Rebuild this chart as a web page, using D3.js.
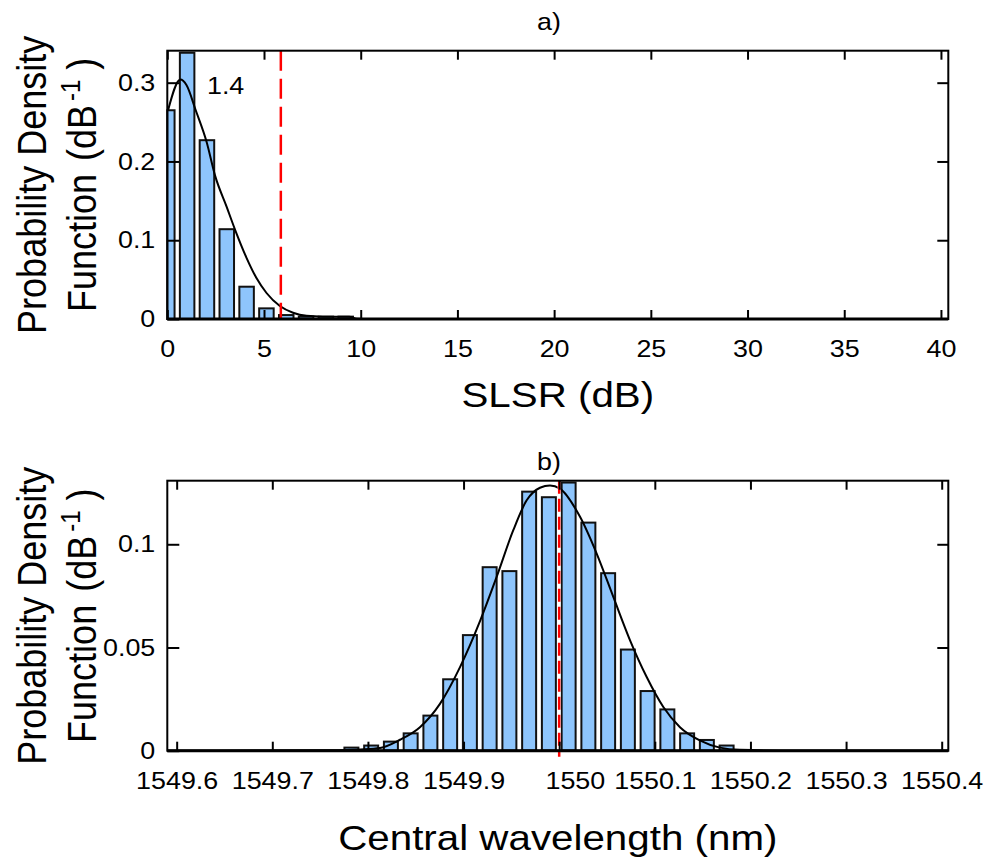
<!DOCTYPE html>
<html>
<head>
<meta charset="utf-8">
<script src="https://cdn.jsdelivr.net/npm/d3@7"></script>
<style>
    body { margin: 0; background: #fff; }
    svg { display: block; }
    text { font-family: "Liberation Sans", Arial, sans-serif; fill: #000; }
</style>
</head>
<body>
<div id="chart"></div>
<script>
// panel a) SLSR histogram (pdf, dB^-1), bins centred on k * slsrBinWidth
const slsrBinWidth = 1.025;
const slsrPdf = [0.265, 0.338, 0.227, 0.114, 0.041, 0.0135, 0.005, 0.003, 0.003, 0.003];
const slsrFitX = [0.04, 0.68, 0.99, 1.47, 2.03, 2.47, 3.06, 3.54, 4.09, 4.61, 5.13, 5.82, 6.5, 7.2, 8.04, 9.4, 9.8, 10.5, 40.38];
const slsrFitY = [0.265, 0.304, 0.297, 0.265, 0.225, 0.182, 0.143, 0.111, 0.078, 0.052, 0.033, 0.0165, 0.008, 0.004, 0.003, 0.003, 0.0004, 0, 0];
const slsrLimit = 5.87;
const slsrTicks = [0, 5, 10, 15, 20, 25, 30, 35, 40];
const slsrTickLabels = ["0", "5", "10", "15", "20", "25", "30", "35", "40"];
const pdfTicksA = [0, 0.1, 0.2, 0.3];
const pdfTickLabelsA = ["0", "0.1", "0.2", "0.3"];

// panel b) central wavelength histogram
const wlBinStart = 1549.7724;
const wlBinWidth = 0.02065;
const wlPdf = [0.0015, 0.0025, 0.0044, 0.0084, 0.017, 0.0346, 0.056, 0.0889, 0.087, 0.1255,
    0.1228, 0.1299, 0.1105, 0.086, 0.049, 0.0289, 0.020, 0.0084, 0.0052, 0.0025];
const wlFitX = [1549.59, 1549.70, 1549.76, 1549.792, 1549.8126, 1549.8335, 1549.8544, 1549.8753, 1549.8963,
    1549.9174, 1549.9346, 1549.952, 1549.966, 1549.9799, 1549.9904, 1550.0008, 1550.0218, 1550.0392,
    1550.0566, 1550.0741, 1550.0915, 1550.1089, 1550.1263, 1550.147, 1550.168, 1550.189, 1550.25, 1550.407];
const wlFitY = [0, 0.00005, 0.0002, 0.0006, 0.0013, 0.0053, 0.0114, 0.0227, 0.0405, 0.063, 0.0842, 0.1068,
    0.1213, 0.1274, 0.1285, 0.127, 0.1133, 0.0955, 0.0745, 0.0535, 0.0357, 0.0212, 0.0114, 0.005, 0.0015,
    0.0004, 0, 0];
const wlCentre = 1550;
const wlTicks = [1549.6, 1549.7, 1549.8, 1549.9, 1550, 1550.1, 1550.2, 1550.3, 1550.4];
const wlTickLabels = ["1549.6", "1549.7", "1549.8", "1549.9", "1550", "1550.1", "1550.2", "1550.3", "1550.4"];
const pdfTicksB = [0, 0.05, 0.1];
const pdfTickLabelsB = ["0", "0.05", "0.1"];

const width = 984;
const height = 867;
const sx = 1.12;   // the text in the figure is a bit stretched sideways
const barFill = "#8ec5fc";

const svg = d3.select("#chart").append("svg")
    .attr("width", width)
    .attr("height", height);

function drawPanel(p) {
    const x = p.x, y = p.y;
    const [x0, x1] = x.range();
    const [y0, y1] = y.range();
    const g = svg.append("g");

    // bars
    g.append("g")
        .attr("fill", barFill)
        .attr("stroke", "#111")
        .attr("stroke-width", 2)
        .selectAll("rect")
        .data(p.pdf)
        .join("rect")
        .attr("x", (d, i) => Math.max(x0, x(p.centre(i) - p.half)))
        .attr("width", (d, i) => x(p.centre(i) + p.half) - Math.max(x0, x(p.centre(i) - p.half)))
        .attr("y", d => y(d))
        .attr("height", d => y(0) - y(d));

    // fitted density
    const line = d3.line()
        .x(d => x(d[0]))
        .y(d => y(d[1]))
        .curve(d3.curveMonotoneX);
    g.append("path")
        .datum(d3.zip(p.fitX, p.fitY))
        .attr("fill", "none")
        .attr("stroke", "#000")
        .attr("stroke-width", 2)
        .attr("d", line);

    // red marker
    if (p.whiteUnder) {
        g.append("line")
            .attr("x1", x(p.mark)).attr("x2", x(p.mark))
            .attr("y1", y1).attr("y2", y0 + p.markOver)
            .attr("stroke", "#fff")
            .attr("stroke-width", 3);
    }
    g.append("line")
        .attr("x1", x(p.mark)).attr("x2", x(p.mark))
        .attr("y1", y1).attr("y2", y0 + p.markOver)
        .attr("stroke", "#ff0000")
        .attr("stroke-width", 2.5)
        .attr("stroke-dasharray", p.dash);

    // axes, ticks pointing inwards on all four sides
    g.append("g")
        .attr("transform", `translate(0,${y0})`)
        .call(d3.axisBottom(x).tickValues(p.xTicks).tickSize(-9).tickPadding(21)
            .tickFormat((d, i) => p.xTickLabels[i]))
        .attr("font-size", 24)
        .attr("font-family", null)
        .call(a => a.select(".domain").remove())
        .call(a => a.selectAll("line").attr("stroke-width", 2))
        .call(a => a.selectAll("text")
            .attr("transform", `scale(${sx},1)`)
            .attr("dx", d => p.shiftWhole && Number.isInteger(d) ? 14 : 0));

    g.append("g")
        .attr("transform", `translate(0,${y1})`)
        .call(d3.axisTop(x).tickValues(p.xTicks).tickSize(-9).tickFormat(""))
        .call(a => a.select(".domain").remove())
        .call(a => a.selectAll("line").attr("stroke-width", 2));

    g.append("g")
        .attr("transform", `translate(${x0},0)`)
        .call(d3.axisLeft(y).tickValues(p.yTicks).tickSize(-12).tickPadding(12 / sx)
            .tickFormat((d, i) => p.yTickLabels[i]))
        .attr("font-size", 24)
        .attr("font-family", null)
        .call(a => a.select(".domain").remove())
        .call(a => a.selectAll("line").attr("stroke-width", 2))
        .call(a => a.selectAll("text").attr("transform", `scale(${sx},1)`));

    g.append("g")
        .attr("transform", `translate(${x1},0)`)
        .call(d3.axisRight(y).tickValues(p.yTicks.filter(d => d > 0)).tickSize(-11).tickFormat(""))
        .call(a => a.select(".domain").remove())
        .call(a => a.selectAll("line").attr("stroke-width", 2));

    // frame
    g.append("rect")
        .attr("x", x0).attr("y", y1)
        .attr("width", x1 - x0).attr("height", y0 - y1)
        .attr("fill", "none")
        .attr("stroke", "#000")
        .attr("stroke-width", 2);
    g.append("line")
        .attr("x1", x0).attr("x2", x1)
        .attr("y1", y0).attr("y2", y0)
        .attr("stroke", "#000")
        .attr("stroke-width", 3);

    // title and x label
    g.append("text")
        .attr("transform", `translate(${p.titleX},${p.titleY}) scale(${sx},1)`)
        .attr("text-anchor", "middle")
        .attr("font-size", 24)
        .text(p.title);
    g.append("text")
        .attr("transform", `translate(${(x0 + x1) / 2},${p.xLabelY}) scale(${sx},1)`)
        .attr("text-anchor", "middle")
        .attr("font-size", 36)
        .text(p.xLabel);

    // y label on two lines
    const yl = g.append("g")
        .attr("transform", `translate(0,${(y0 + y1) / 2}) scale(${sx},1) rotate(-90)`)
        .attr("text-anchor", "middle")
        .attr("font-size", 36);
    yl.append("text")
        .attr("y", 46 / sx)
        .text("Probability Density");
    const l2 = yl.append("text")
        .attr("y", 96 / sx);
    l2.append("tspan").text("Function");
    l2.append("tspan").attr("dx", 3).text(" (dB");
    l2.append("tspan").attr("font-size", 24).attr("dx", 4).attr("dy", -14).text("-1");
    l2.append("tspan").attr("dx", 10).attr("dy", 14).text(")");

    return g;
}

const xA = d3.scaleLinear().domain([0, 40.38]).range([167.3, 948.3]);
const yA = d3.scaleLinear().domain([0, 0.3406]).range([319, 50.7]);

const gA = drawPanel({
    x: xA, y: yA,
    pdf: slsrPdf,
    centre: i => i * slsrBinWidth,
    half: 0.366 * slsrBinWidth,
    fitX: slsrFitX, fitY: slsrFitY,
    mark: slsrLimit, markOver: 0, dash: "20,8", whiteUnder: false,
    xTicks: slsrTicks, xTickLabels: slsrTickLabels,
    yTicks: pdfTicksA, yTickLabels: pdfTickLabelsA,
    title: "a)", titleX: 549, titleY: 30,
    xLabel: "SLSR (dB)", xLabelY: 407
});

gA.append("text")
    .attr("transform", `translate(${xA(2.05)},${yA(0.2856)}) scale(${sx},1)`)
    .attr("font-size", 24)
    .text("1.4");

const xB = d3.scaleLinear().domain([1549.5902, 1550.4069]).range([167.3, 948.3]);
const yB = d3.scaleLinear().domain([0, 0.1308]).range([750.7, 480.7]);

drawPanel({
    x: xB, y: yB,
    pdf: wlPdf,
    centre: i => wlBinStart + (i + 0.5) * wlBinWidth,
    half: 0.354 * wlBinWidth,
    fitX: wlFitX, fitY: wlFitY,
    mark: wlCentre, markOver: 6, dash: "13,5", whiteUnder: true,
    xTicks: wlTicks, xTickLabels: wlTickLabels, shiftWhole: true,
    yTicks: pdfTicksB, yTickLabels: pdfTickLabelsB,
    title: "b)", titleX: 549, titleY: 470,
    xLabel: "Central wavelength (nm)", xLabelY: 850
});
</script>
</body>
</html>
